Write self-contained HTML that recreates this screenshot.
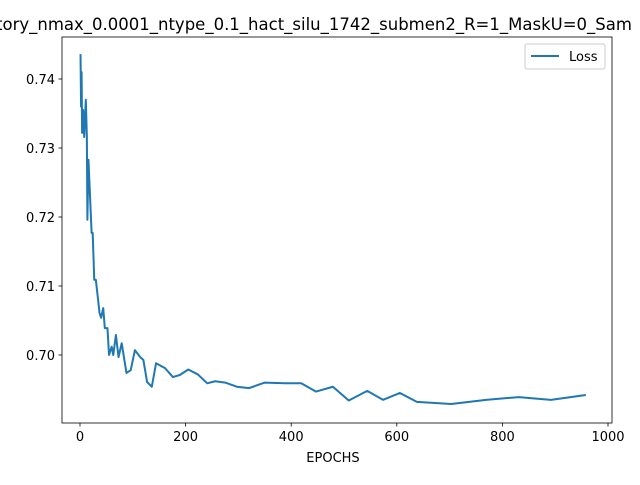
<!DOCTYPE html>
<html><head><meta charset="utf-8"><style>
body{margin:0;background:#fff;}
svg{font-family:"DejaVu Sans","Liberation Sans",sans-serif;}
</style></head><body>
<svg id="chart" width="640" height="480">
<rect width="640" height="480" fill="#fff"/>
<text x="-4" y="30" font-size="16.5" fill="#000">tory_nmax_0.0001_ntype_0.1_hact_silu_1742_submen2_R=1_MaskU=0_Sam</text>
<g id="ticks"></g>
<polyline id="line" fill="none" stroke="#1f77b4" stroke-width="2" stroke-linejoin="round"/>
<rect x="62" y="37" width="550" height="386" fill="none" stroke="#000" stroke-width="0.8"/>
<text x="333" y="462" font-size="13" text-anchor="middle">EPOCHS</text>
<g>
<rect x="525" y="44" width="80" height="25" rx="2" fill="#fff" stroke="#ccc"/>
<line x1="531" y1="56" x2="559" y2="56" stroke="#1f77b4" stroke-width="2"/>
<text x="569" y="61" font-size="13">Loss</text>
</g>
</svg>
<script>
const epochs=[1,2,3,4,6,8,11,13,14,16,22,24,27,30,37,40,44,47,52,55,60,63,68,73,79,88,96,104,114,120,127,136,144,161,176,189,205,223,241,256,275,297,320,350,388,419,447,479,509,544,574,606,638,703,769,831,892,958];
const loss=[0.7436,0.736,0.741,0.7322,0.7355,0.7316,0.737,0.7316,0.7196,0.7283,0.7177,0.7177,0.7109,0.7109,0.7061,0.7054,0.7068,0.7039,0.7039,0.7000,0.7012,0.7000,0.7029,0.6997,0.7017,0.6974,0.6978,0.7007,0.6997,0.6993,0.6961,0.6954,0.6988,0.6981,0.6968,0.6971,0.6979,0.6972,0.6959,0.6962,0.6960,0.6954,0.6952,0.6960,0.6959,0.6959,0.6947,0.6954,0.6934,0.6948,0.6935,0.6945,0.6932,0.6929,0.6935,0.6939,0.6935,0.6942];
const xTicks=[0,200,400,600,800,1000];
const yTicks=[0.70,0.71,0.72,0.73,0.74];
const xs=v=>80+v*0.528;
const ys=v=>355-(v-0.70)*6900;
const ns="http://www.w3.org/2000/svg";
const g=document.getElementById('ticks');
xTicks.forEach(t=>{
 const l=document.createElementNS(ns,'line');
 
 
 l.setAttribute('x1',xs(t));l.setAttribute('x2',xs(t));l.setAttribute('y1',423);l.setAttribute('y2',426.5);l.setAttribute('stroke','#000');l.setAttribute('stroke-width','0.8');g.appendChild(l);
 const tx=document.createElementNS(ns,'text');
 
 
 tx.setAttribute('x',xs(t));tx.setAttribute('y',441);tx.setAttribute('font-size','13');tx.setAttribute('text-anchor','middle');tx.textContent=t;g.appendChild(tx);
});
yTicks.forEach(t=>{
 const l=document.createElementNS(ns,'line');
 
 
 l.setAttribute('x1',58.5);l.setAttribute('x2',62);l.setAttribute('y1',ys(t));l.setAttribute('y2',ys(t));l.setAttribute('stroke','#000');l.setAttribute('stroke-width','0.8');g.appendChild(l);
 const tx=document.createElementNS(ns,'text');
 
 
 tx.setAttribute('x',55);tx.setAttribute('y',ys(t)+5);tx.setAttribute('font-size','13');tx.setAttribute('text-anchor','end');tx.textContent=t.toFixed(2);g.appendChild(tx);
});
document.getElementById('line').setAttribute('points',epochs.map((e,i)=>xs(e)+','+ys(loss[i])).join(' '));
</script>
</body></html>
